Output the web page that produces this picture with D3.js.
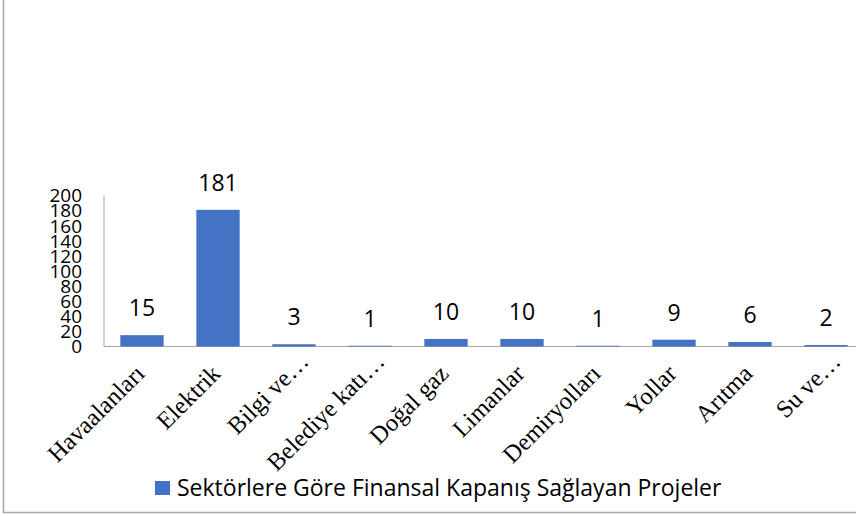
<!DOCTYPE html>
<html>
<head>
<meta charset="utf-8">
<script src="https://cdnjs.cloudflare.com/ajax/libs/d3/7.8.5/d3.min.js"></script>
<style>
  body { margin: 0; background: #fff; }
  svg { display: block; }
</style>
</head>
<body>
<div id="chart"></div>
<script>
// sectors and number of projects reaching financial close
var categories = ['Havaalanları', 'Elektrik', 'Bilgi ve…', 'Belediye katı…', 'Doğal gaz',
  'Limanlar', 'Demiryolları', 'Yollar', 'Arıtma', 'Su ve…']
var values = [15, 181, 3, 1, 10, 10, 1, 9, 6, 2]
var yTicks = [0, 20, 40, 60, 80, 100, 120, 140, 160, 180, 200]
var seriesName = 'Sektörlere Göre Finansal Kapanış Sağlayan Projeler'

var width = 856, height = 516
var barColor = '#4472c4'

var svg = d3.select('#chart').append('svg')
  .attr('width', width)
  .attr('height', height)

// outer frame (chart is cropped at top and right)
svg.append('path')
  .attr('d', 'M3.5,0 V512.5 H' + width)
  .attr('fill', 'none')
  .attr('stroke', '#a6a6a6')
  .attr('stroke-width', 1.5)

var x = d3.scaleBand()
  .domain(categories)
  .range([104, 864])
  .paddingInner(0.43)
  .paddingOuter(0.215)

var y = d3.scaleLinear()
  .domain([0, 200])
  .range([346.5, 195.5])

// axes lines
svg.append('line')
  .attr('x1', 104).attr('x2', 104)
  .attr('y1', y(200)).attr('y2', y(0))
  .attr('stroke', '#a6a6a6')
svg.append('line')
  .attr('x1', 104).attr('x2', 864)
  .attr('y1', y(0)).attr('y2', y(0))
  .attr('stroke', '#a6a6a6')

// y tick labels (packed tight, as in the original)
svg.selectAll('.ytick')
  .data(yTicks)
  .enter().append('text')
  .attr('class', 'ytick')
  .attr('x', 82)
  .attr('y', function(d) { return y(d) })
  .attr('dy', '0.36em')
  .attr('text-anchor', 'end')
  .attr('font-family', 'Open Sans, sans-serif')
  .attr('font-size', 19)
  .attr('fill', '#000')
  .text(function(d) { return d })

// bars
svg.selectAll('.bar')
  .data(values)
  .enter().append('rect')
  .attr('class', 'bar')
  .attr('x', function(d, i) { return x(categories[i]) })
  .attr('width', x.bandwidth())
  .attr('y', function(d) { return y(d) })
  .attr('height', function(d) { return y(0) - y(d) })
  .attr('fill', barColor)

// value labels
svg.selectAll('.val')
  .data(values)
  .enter().append('text')
  .attr('class', 'val')
  .attr('x', function(d, i) { return x(categories[i]) + x.bandwidth() / 2 })
  .attr('y', function(d) { return y(d) - 19 })
  .attr('text-anchor', 'middle')
  .attr('font-family', 'Open Sans, sans-serif')
  .attr('font-size', 23)
  .attr('fill', '#000')
  .text(function(d) { return d })

// category labels, rotated; truncated ones sit a bit further out
svg.selectAll('.xlab')
  .data(categories)
  .enter().append('text')
  .attr('class', 'xlab')
  .attr('transform', function(d) {
    var cx = x(d) + x.bandwidth() / 2 + 4
    return 'translate(' + cx + ',375) rotate(-45)'
  })
  .attr('dx', function(d) { return d.slice(-1) === '…' ? 17 : 0 })
  .attr('text-anchor', 'end')
  .attr('font-family', 'Liberation Serif, DejaVu Serif, serif')
  .attr('font-size', 24.5)
  .attr('fill', '#000')
  .text(function(d) { return d })

// legend
var legend = svg.append('g')
legend.append('rect')
  .attr('x', 155).attr('y', 481)
  .attr('width', 15).attr('height', 14)
  .attr('fill', barColor)
legend.append('text')
  .attr('x', 177).attr('y', 496)
  .attr('font-family', 'Open Sans, sans-serif')
  .attr('font-size', 23)
  .attr('fill', '#000')
  .text(seriesName)
</script>
</body>
</html>
